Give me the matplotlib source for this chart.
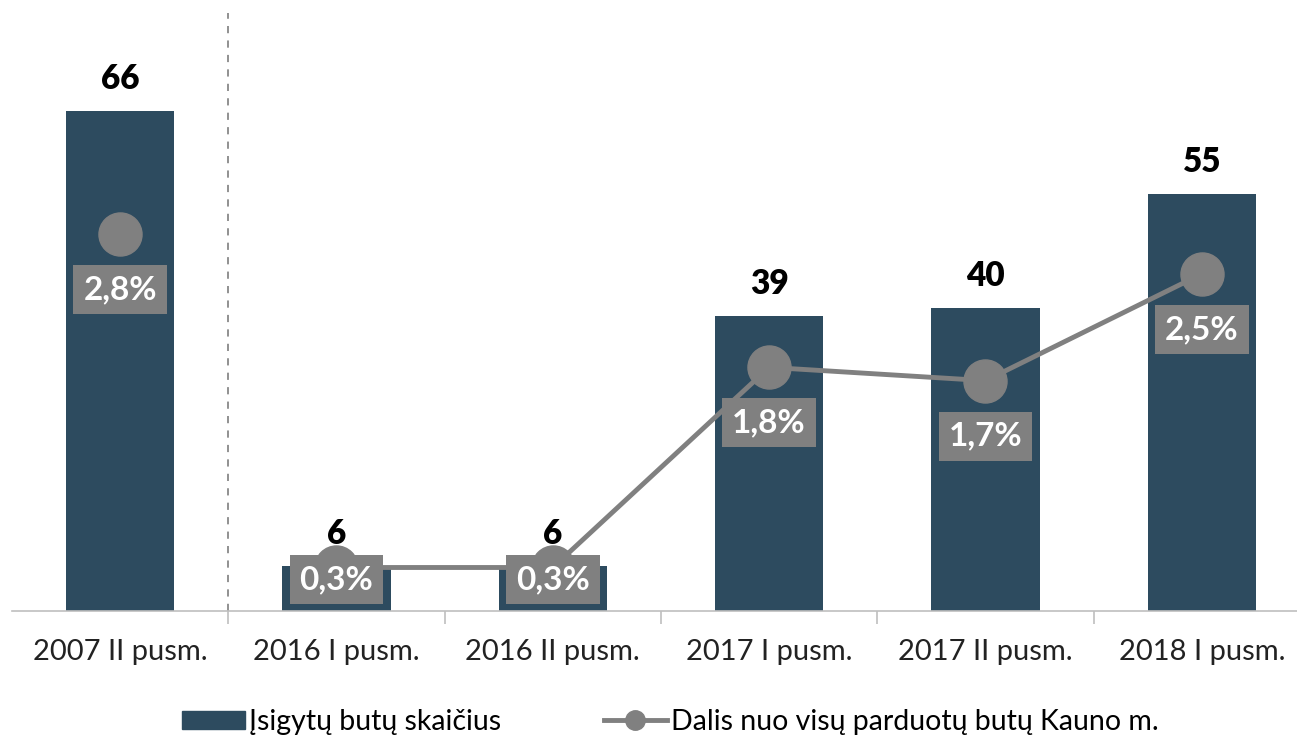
import matplotlib.pyplot as plt
import numpy as np
from matplotlib.lines import Line2D
from matplotlib.patches import Patch

# data
categories = ["2007 II pusm.", "2016 I pusm.", "2016 II pusm.", "2017 I pusm.", "2017 II pusm.", "2018 I pusm."]
bought = [66, 6, 6, 39, 40, 55]
share = [2.8, 0.3, 0.3, 1.8, 1.7, 2.5]
share_labels = ["2,8%", "0,3%", "0,3%", "1,8%", "1,7%", "2,5%"]
bar_name = "Įsigytų butų skaičius"
line_name = "Dalis nuo visų parduotų butų Kauno m."

plt.rcParams['font.family'] = ['Lato', 'DejaVu Sans']

bar_col = "#2D4B5F"
grey = "#808080"

fig = plt.figure(figsize=(12.97, 7.41), dpi=100)
ax = fig.add_axes([12/1297, 130/741, 1298/1297, 606/741])
x = np.arange(len(categories))

ax.bar(x, bought, width=0.5, color=bar_col, label=bar_name, zorder=2)
for xi, v in zip(x, bought):
    ax.annotate(str(v), (xi, v), xytext=(0, 23), textcoords="offset points", ha="center", va="center",
                fontsize=24, fontweight="heavy", color="black")

ax.set_xlim(-0.5, len(categories) - 0.5)
ax.set_ylim(0, 80)
ax.set_yticks([])
for s in ["top", "right", "left"]:
    ax.spines[s].set_visible(False)
ax.spines["bottom"].set_color("#BFBFBF")
ax.spines["bottom"].set_linewidth(1.2)
ax.set_xticks(x)
ax.set_xticklabels(categories, fontsize=21, color="#222222")
ax.tick_params(axis="x", length=0, pad=20)
ax.set_xticks(np.arange(0.5, len(categories) - 1, 1), minor=True)
ax.tick_params(axis="x", which="minor", length=9, color="#BFBFBF", width=1.2)

# separator between 2007 and later periods
ax.plot([0.5, 0.5], [0, 79], ls=(0, (4, 4)), color="#888888", lw=1.3, zorder=1)

ax2 = ax.twinx()
ax2.set_ylim(-0.026, 4.515)
ax2.axis("off")
ax2.plot(x[1:], share[1:], color=grey, lw=3.5, marker="o", markersize=31, zorder=3)
ax2.plot(x[:1], share[:1], color=grey, lw=0, marker="o", markersize=31, zorder=3)
offsets = [-40, -9, -9, -40, -40, -40]
for xi, v, lab, off in zip(x, share, share_labels, offsets):
    ax2.annotate(lab, (xi, v), xytext=(0, off), textcoords="offset points", ha="center", va="center",
                 fontsize=24, fontweight="bold", color="white", zorder=4,
                 bbox=dict(boxstyle="square,pad=0.3", fc=grey, ec="none"))

handles = [Patch(color=bar_col), Line2D([0], [0], color=grey, lw=3.5, marker="o", markersize=14)]
fig.legend(handles, [bar_name, line_name], loc="center", bbox_to_anchor=(0.517, 19/741), ncol=2,
           frameon=False, fontsize=20.5, handlelength=2.2, handleheight=0.6, handletextpad=0.15,
           columnspacing=3.6)

fig.savefig("out.png", dpi=100)
